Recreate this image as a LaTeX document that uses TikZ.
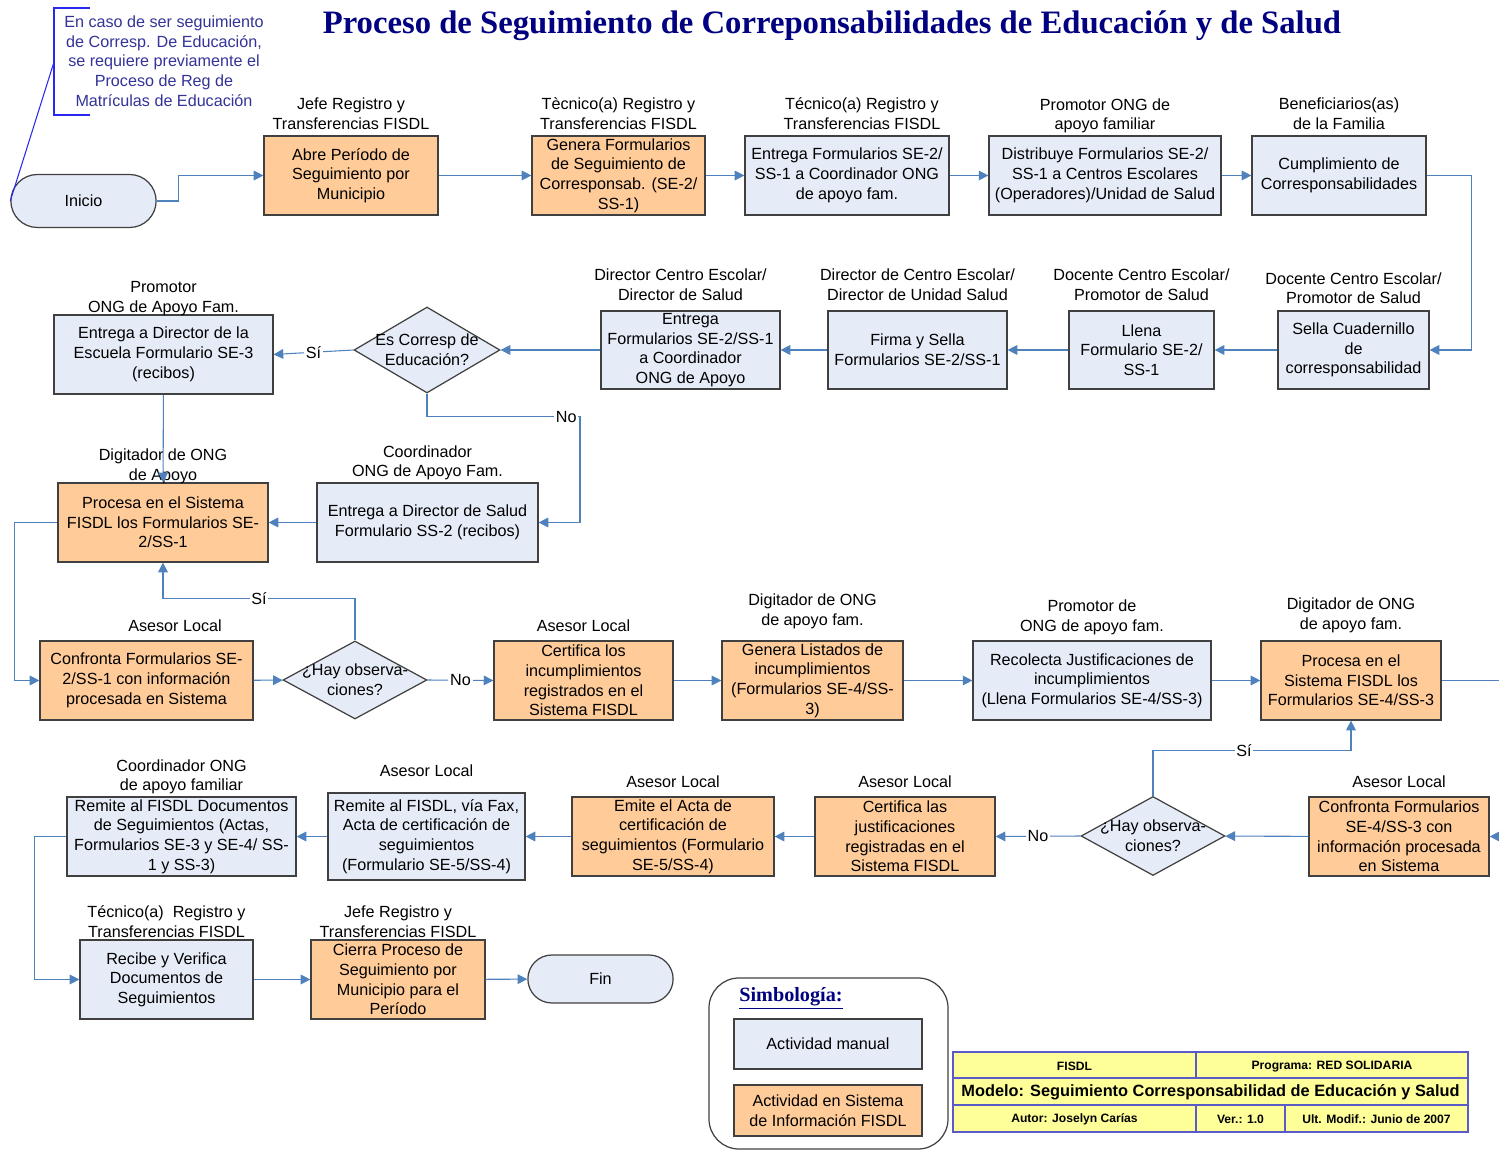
\documentclass[tikz,border=0pt]{standalone}
\usepackage{fontspec}
\setmainfont{Liberation Sans}
\newfontfamily\titulofont{Liberation Serif}
\usetikzlibrary{positioning}
\usetikzlibrary{shapes.geometric,shapes.misc}
\usetikzlibrary{arrows.meta}

\definecolor{azulcaja}{RGB}{230,236,247}
\definecolor{naranja}{RGB}{255,204,153}
\definecolor{flujo}{RGB}{79,129,189}
\definecolor{borde}{RGB}{64,64,64}
\definecolor{titulo}{RGB}{0,0,128}
\definecolor{nota}{RGB}{51,51,153}
\definecolor{notalinea}{RGB}{40,40,240}
\definecolor{amarillo}{RGB}{255,255,153}
\definecolor{bordetabla}{RGB}{90,90,200}

\newcommand{\cuerpo}{\fontsize{9.2}{11.2}\selectfont}

\begin{document}
\begin{tikzpicture}[x=0.02cm,y=-0.02cm,
	every node/.style={font=\cuerpo},
	caja/.style={rectangle, draw=borde, line width=0.7pt, align=center, inner sep=1pt},
	manual/.style={caja, fill=azulcaja},
	sistema/.style={caja, fill=naranja},
	decision/.style={diamond, draw=borde, line width=0.7pt, fill=azulcaja, inner sep=0pt},
	dtxt/.style={align=center, inner sep=0pt},
	terminal/.style={rounded rectangle, draw=borde, line width=0.7pt, fill=azulcaja},
	rol/.style={align=center, inner sep=1pt},
	flow/.style={draw=flujo, line width=0.6pt, -{Triangle[length=5.5pt,width=5.5pt]}},
	resp/.style={fill=white, inner sep=1pt},
	tablachica/.style={font=\bfseries\fontsize{6.9}{8}\selectfont}]
	
	\useasboundingbox (0,0) rectangle (1499,1151);
	
	% titulo
	\node[font=\titulofont\bfseries\fontsize{18.6}{22}\selectfont, text=titulo] (titulo) at (832,26) {Proceso de Seguimiento de Correponsabilidades de Educación y de Salud};
	
	% nota
	\node[text=nota, align=center, inner sep=0pt] (nota) at (164,61) {En caso de ser seguimiento\\de Corresp. De Educación,\\se requiere previamente el\\Proceso de Reg de\\Matrículas de Educación};
	\draw[notalinea, line width=0.6pt] (90,8) -- (54,8) -- (54,115) -- (90,115);
	
	% fila 1
	\node[terminal, minimum width=3.14cm, minimum height=1.06cm] (inicio) at (83.5,201) {Inicio};
	\node[sistema, minimum width=3.48cm, minimum height=1.58cm] (abre) at (351,175.5) {Abre Período de\\Seguimiento por\\Municipio};
	\node[sistema, minimum width=3.46cm, minimum height=1.58cm] (genera) at (618.5,175.5) {Genera Formularios\\de Seguimiento de\\Corresponsab. (SE-2/\\SS-1)};
	\node[manual, minimum width=4.08cm, minimum height=1.58cm] (entregaF) at (847,175.5) {Entrega Formularios SE-2/\\SS-1 a Coordinador ONG\\de apoyo fam.};
	\node[manual, minimum width=4.64cm, minimum height=1.58cm] (distribuye) at (1105,175.5) {Distribuye Formularios SE-2/\\SS-1 a Centros Escolares\\(Operadores)/Unidad de Salud};
	\node[manual, minimum width=3.48cm, minimum height=1.58cm] (cumple) at (1339,175.5) {Cumplimiento de\\Corresponsabilidades};
	
	\node[rol, above=2pt of abre] (abreR) {Jefe Registro y\\Transferencias FISDL};
	\node[rol, above=2pt of genera] (generaR) {Tècnico(a) Registro y\\Transferencias FISDL};
	\node[rol, above=2pt of entregaF, xshift=0.3cm] (entregaFR) {Técnico(a) Registro y\\Transferencias FISDL};
	\node[rol, above=0pt of distribuye] (distribuyeR) {Promotor ONG de\\apoyo familiar};
	\node[rol, above=2pt of cumple] (cumpleR) {Beneficiarios(as)\\de la Familia};
	
	\draw[notalinea, line width=0.6pt] (54,62) -- (inicio.west);
	
	% fila 2
	\node[manual, minimum width=3.02cm, minimum height=1.56cm] (sella) at (1353.5,350) {Sella Cuadernillo\\de\\corresponsabilidad};
	\node[manual, minimum width=2.9cm, minimum height=1.56cm] (llena) at (1141.5,350) {Llena\\Formulario SE-2/\\SS-1};
	\node[manual, minimum width=3.58cm, minimum height=1.56cm] (firma) at (917.5,350) {Firma y Sella\\Formularios SE-2/SS-1};
	\node[manual, minimum width=3.58cm, minimum height=1.56cm] (entregaC) at (690.5,350) {Entrega\\Formularios SE-2/SS-1\\a Coordinador\\ONG de Apoyo};
	\node[decision, minimum width=2.92cm, minimum height=1.72cm,
		label={[dtxt]center:Es Corresp de\\Educación?}] (esEdu) at (427,350) {};
	\node[manual, minimum width=4.38cm, minimum height=1.58cm] (entregaE) at (163.5,354.5) {Entrega a Director de la\\Escuela Formulario SE-3\\(recibos)};
	
	\node[rol, above=2.5pt of sella] (sellaR) {Docente Centro Escolar/\\Promotor de Salud};
	\node[rol, above=4.5pt of llena] (llenaR) {Docente Centro Escolar/\\Promotor de Salud};
	\node[rol, above=4.5pt of firma] (firmaR) {Director de Centro Escolar/\\Director de Unidad Salud};
	\node[rol, above=4.5pt of entregaC, xshift=-0.2cm] (entregaCR) {Director Centro Escolar/\\Director de Salud};
	\node[rol, above=-2pt of entregaE] (entregaER) {Promotor\\ONG de Apoyo Fam.};
	
	% fila 3
	\node[sistema, minimum width=4.2cm, minimum height=1.58cm] (procesa1) at (163,522.5) {Procesa en el Sistema\\FISDL los Formularios SE-\\2/SS-1};
	\node[manual, minimum width=4.42cm, minimum height=1.58cm] (entregaS) at (427.5,522.5) {Entrega a Director de Salud\\Formulario SS-2 (recibos)};
	
	\node[rol, above=-2pt of procesa1] (procesa1R) {Digitador de ONG\\de Apoyo};
	\node[rol, above=0pt of entregaS] (entregaSR) {Coordinador\\ONG de Apoyo Fam.};
	
	% fila 4
	\node[sistema, minimum width=4.26cm, minimum height=1.58cm] (confronta1) at (146.5,680.5) {Confronta Formularios SE-\\2/SS-1 con información\\procesada en Sistema};
	\node[decision, minimum width=2.88cm, minimum height=1.56cm,
		label={[dtxt]center:¿Hay observa-\\ciones?}] (obs1) at (355,680) {};
	\node[sistema, minimum width=3.58cm, minimum height=1.58cm] (certifica1) at (583.5,680.5) {Certifica los\\incumplimientos\\registrados en el\\Sistema FISDL};
	\node[sistema, minimum width=3.62cm, minimum height=1.58cm] (listados) at (812.5,680.5) {Genera Listados de\\incumplimientos\\(Formularios SE-4/SS-\\3)};
	\node[manual, minimum width=4.76cm, minimum height=1.58cm] (recolecta) at (1092,680.5) {Recolecta Justificaciones de\\incumplimientos\\(Llena Formularios SE-4/SS-3)};
	\node[sistema, minimum width=3.6cm, minimum height=1.58cm] (procesa2) at (1351,680.5) {Procesa en el\\Sistema FISDL los\\Formularios SE-4/SS-3};
	
	\node[rol, above=4pt of confronta1, xshift=0.57cm] (confronta1R) {Asesor Local};
	\node[rol, above=4pt of certifica1] (certifica1R) {Asesor Local};
	\node[rol, above=5.5pt of listados] (listadosR) {Digitador de ONG\\de apoyo fam.};
	\node[rol, above=2pt of recolecta] (recolectaR) {Promotor de\\ONG de apoyo fam.};
	\node[rol, above=3pt of procesa2] (procesa2R) {Digitador de ONG\\de apoyo fam.};
	
	% fila 5
	\node[sistema, minimum width=3.6cm, minimum height=1.58cm] (confronta2) at (1399,836.5) {Confronta Formularios\\SE-4/SS-3 con\\información procesada\\en Sistema};
	\node[decision, minimum width=2.88cm, minimum height=1.58cm,
		label={[dtxt]center:¿Hay observa-\\ciones?}] (obs2) at (1153,836) {};
	\node[sistema, minimum width=3.6cm, minimum height=1.58cm] (certifica2) at (905,836.5) {Certifica las\\justificaciones\\registradas en el\\Sistema FISDL};
	\node[sistema, minimum width=4.04cm, minimum height=1.58cm] (emite) at (673,836.5) {Emite el Acta de\\certificación de\\seguimientos (Formulario\\SE-5/SS-4)};
	\node[manual, minimum width=3.94cm, minimum height=1.74cm] (remiteFax) at (426.5,836.5) {Remite al FISDL, vía Fax,\\Acta de certificación de\\seguimientos\\(Formulario SE-5/SS-4)};
	\node[manual, minimum width=4.58cm, minimum height=1.58cm] (remiteDoc) at (181.5,836.5) {Remite al FISDL Documentos\\de Seguimientos (Actas,\\Formularios SE-3 y SE-4/ SS-\\1 y SS-3)};
	
	\node[rol, above=3.5pt of confronta2] (confronta2R) {Asesor Local};
	\node[rol, above=4pt of certifica2] (certifica2R) {Asesor Local};
	\node[rol, above=4pt of emite] (emiteR) {Asesor Local};
	\node[rol, above=8pt of remiteFax] (remiteFaxR) {Asesor Local};
	\node[rol, above=0pt of remiteDoc] (remiteDocR) {Coordinador ONG\\de apoyo familiar};
	
	% fila 6
	\node[manual, minimum width=3.46cm, minimum height=1.58cm] (recibe) at (166.5,979.5) {Recibe y Verifica\\Documentos de\\Seguimientos};
	\node[sistema, minimum width=3.48cm, minimum height=1.58cm] (cierra) at (398,979.5) {Cierra Proceso de\\Seguimiento por\\Municipio para el\\Período};
	\node[terminal, minimum width=3.14cm, minimum height=0.96cm] (fin) at (600.5,979) {Fin};
	
	\node[rol, above=0pt of recibe] (recibeR) {Técnico(a)~~Registro y\\Transferencias FISDL};
	\node[rol, above=0pt of cierra] (cierraR) {Jefe Registro y\\Transferencias FISDL};
	
	% flechas
	\draw[flow] (inicio.east) -- ++(22,0) |- (abre.west);
	\draw[flow] (abre) -- (genera);
	\draw[flow] (genera) -- (entregaF);
	\draw[flow] (entregaF) -- (distribuye);
	\draw[flow] (distribuye) -- (cumple);
	\draw[flow] (cumple.east) -- ++(45,0) |- (sella.east);
	
	\draw[flow] (sella) -- (llena);
	\draw[flow] (llena) -- (firma);
	\draw[flow] (firma) -- (entregaC);
	\draw[flow] (entregaC) -- (esEdu);
	\draw[flow] (esEdu.west) -- node[resp]{Sí} (entregaE.east);
	\draw[flow] (esEdu.south) -- ++(0,23) -- node[resp, pos=0.91]{No} ++(153,0) |- (entregaS.east);
	\draw[flow] (entregaE) -- (procesa1);
	\draw[flow] (entregaS) -- (procesa1);
	\draw[flow] (procesa1.west) -- ++(-43,0) |- (confronta1.west);
	
	\draw[flow] (confronta1) -- (obs1);
	\draw[flow] (obs1.north) -- ++(0,-42) -| node[resp, pos=0.25]{Sí} (procesa1.south);
	\draw[flow] (obs1.east) -- node[resp]{No} (certifica1.west);
	\draw[flow] (certifica1) -- (listados);
	\draw[flow] (listados) -- (recolecta);
	\draw[flow] (recolecta) -- (procesa2);
	\draw[flow] (procesa2.east) -- ++(69,0) |- (confronta2.east);
	
	\draw[flow] (confronta2) -- (obs2);
	\draw[flow] (obs2.north) -- ++(0,-45) -| node[resp, pos=0.23]{Sí} (procesa2.south);
	\draw[flow] (obs2.west) -- node[resp]{No} (certifica2.east);
	\draw[flow] (certifica2) -- (emite);
	\draw[flow] (emite) -- (remiteFax);
	\draw[flow] (remiteFax) -- (remiteDoc);
	\draw[flow] (remiteDoc.west) -- ++(-32,0) |- (recibe.west);
	\draw[flow] (recibe) -- (cierra);
	\draw[flow] (cierra) -- (fin);
	
	% simbologia
	\draw[borde, line width=0.7pt, rounded corners=0.6cm] (709,978) rectangle (948,1149);
	\node[font=\titulofont\bfseries\fontsize{11.5}{13}\selectfont, text=titulo] (simb) at (791,998) {\underline{Simbología:}};
	\node[manual, minimum width=3.76cm, minimum height=1.0cm] (legManual) at (828,1044) {Actividad manual};
	\node[sistema, minimum width=3.76cm, minimum height=1.02cm] (legSistema) at (828,1110.5) {Actividad en Sistema\\de Información FISDL};
	
	% tabla
	\draw[bordetabla, fill=amarillo, line width=0.7pt] (953,1052) rectangle (1468,1132);
	\draw[bordetabla, line width=0.7pt] (953,1078) -- (1468,1078) (953,1105) -- (1468,1105);
	\draw[bordetabla, line width=0.7pt] (1196,1052) -- (1196,1078) (1196,1105) -- (1196,1132) (1285,1105) -- (1285,1132);
	\node[tablachica] (tFisdl) at (1074.5,1066.5) {FISDL};
	\node[tablachica] (tPrograma) at (1332,1066.5) {Programa: RED SOLIDARIA};
	\node[font=\bfseries\fontsize{9.3}{11}\selectfont] (tModelo) at (1210.5,1092) {Modelo: Seguimiento Corresponsabilidad de Educación y Salud};
	\node[tablachica] (tAutor) at (1074.5,1119.5) {Autor: Joselyn Carías};
	\node[tablachica] (tVer) at (1240.5,1119.5) {Ver.: 1.0};
	\node[tablachica] (tModif) at (1376.5,1119.5) {Ult. Modif.: Junio de 2007};
	
\end{tikzpicture}
\end{document}
